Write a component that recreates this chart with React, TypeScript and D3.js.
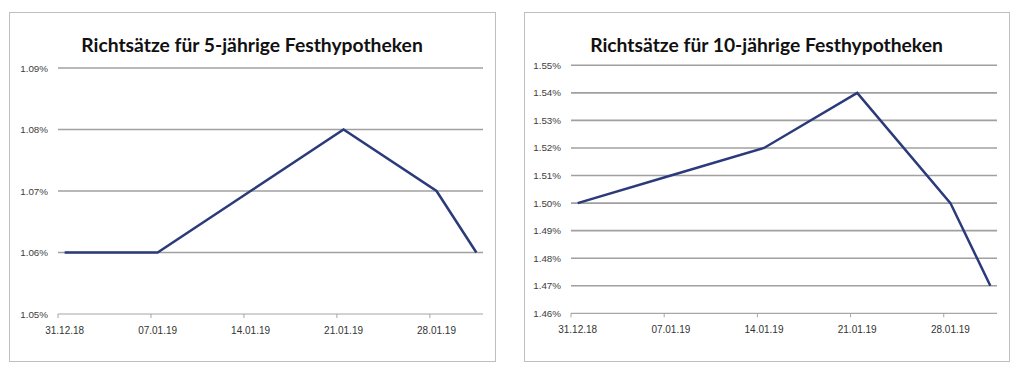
import React from "react";
import * as d3 from "d3";

const dates = ["2018-12-31", "2019-01-07", "2019-01-14", "2019-01-21", "2019-01-28", "2019-01-31"];
const rates5 = [1.06, 1.06, 1.07, 1.08, 1.07, 1.06];
const rates10 = [1.5, 1.51, 1.52, 1.54, 1.5, 1.47];
const tickDates = ["2018-12-31", "2019-01-07", "2019-01-14", "2019-01-21", "2019-01-28"];
const ticks5 = [1.05, 1.06, 1.07, 1.08, 1.09];
const ticks10 = [1.46, 1.47, 1.48, 1.49, 1.5, 1.51, 1.52, 1.53, 1.54, 1.55];
const title5 = "Richtsätze für 5-jährige Festhypotheken";
const title10 = "Richtsätze für 10-jährige Festhypotheken";

const DAY = 86400000;
const parse = (s: string) => new Date(s + "T00:00:00Z");
const fmtDate = d3.utcFormat("%d.%m.%y");

type PanelProps = {
  frame: [number, number, number, number];
  plotX: [number, number];
  plotY: [number, number];
  yTicks: number[];
  values: number[];
  title: string;
};

function Panel({ frame, plotX, plotY, yTicks, values, title }: PanelProps) {
  const [fx, fy, fw, fh] = frame;
  const x = d3
    .scaleUtc()
    .domain([parse("2018-12-31"), new Date(parse("2019-01-31").getTime() + DAY)])
    .range(plotX);
  const y = d3
    .scaleLinear()
    .domain([yTicks[0], yTicks[yTicks.length - 1]])
    .range(plotY);
  const pts: [number, number][] = dates.map((d, i) => [
    x(new Date(parse(d).getTime() + DAY / 2)),
    y(values[i]),
  ]);
  const line = d3.line()(pts) || "";
  const base = y(yTicks[0]);
  const fontLbl = "'Liberation Sans', Arial, sans-serif";
  return (
    <g>
      <rect x={fx + 0.5} y={fy + 0.5} width={fw} height={fh} fill="#fff" stroke="#bfbfbf" strokeWidth={1} />
      <text
        x={fx + fw / 2}
        y={fy + 40}
        textAnchor="middle"
        fontFamily="Lato, 'Open Sans', sans-serif"
        fontWeight={700}
        fontSize={19.3}
        fill="#111"
      >
        {title}
      </text>
      {yTicks.slice(1).map((t) => (
        <line key={t} x1={plotX[0]} x2={plotX[1]} y1={y(t)} y2={y(t)} stroke="#a0a0a0" strokeWidth={1.6} />
      ))}
      <line x1={plotX[0]} x2={plotX[1]} y1={base} y2={base} stroke="#a6a6a6" strokeWidth={1.2} />
      {tickDates.map((d) => (
        <line key={d} x1={x(parse(d))} x2={x(parse(d))} y1={base} y2={base + 4} stroke="#a6a6a6" strokeWidth={1} />
      ))}
      {yTicks.map((t) => (
        <text
          key={t}
          x={plotX[0] - 10}
          y={y(t) + 3.5}
          textAnchor="end"
          fontFamily={fontLbl}
          fontSize={9.8}
          fill="#404040"
        >
          {t.toFixed(2) + "%"}
        </text>
      ))}
      {tickDates.map((d) => (
        <text
          key={d}
          x={x(new Date(parse(d).getTime() + DAY / 2))}
          y={base + 20}
          textAnchor="middle"
          fontFamily={fontLbl}
          fontSize={10}
          fill="#333"
        >
          {fmtDate(parse(d))}
        </text>
      ))}
      <path d={line} fill="none" stroke="#2b3a7b" strokeWidth={2.5} strokeLinejoin="miter" />
    </g>
  );
}

export default function App() {
  return (
    <svg
      width={1024}
      height={384}
      style={{ position: "absolute", left: 0, top: 0, background: "#fff" }}
    >
      <rect width={1024} height={384} fill="#fff" />
      <Panel frame={[9, 12, 486, 349]} plotX={[58, 483]} plotY={[314, 68]} yTicks={ticks5} values={rates5} title={title5} />
      <Panel frame={[524, 12, 485, 349]} plotX={[571, 997]} plotY={[313.3, 65.3]} yTicks={ticks10} values={rates10} title={title10} />
    </svg>
  );
}
